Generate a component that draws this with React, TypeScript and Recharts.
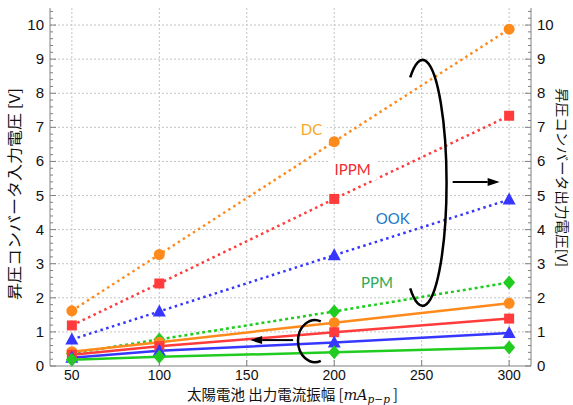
import React from 'react';
import { LineChart, Line, XAxis, YAxis, CartesianGrid, ReferenceDot, Label } from 'recharts';

// solar cell output current amplitude [mA p-p]
const currents = [50, 100, 200, 300];

// boost converter input voltage (left axis, dotted)
const dcIn = [1.62, 3.27, 6.58, 9.88];
const ippmIn = [1.19, 2.42, 4.9, 7.34];
const ookIn = [0.78, 1.6, 3.25, 4.88];
const ppmIn = [0.37, 0.78, 1.6, 2.45];

// boost converter output voltage (right axis, solid)
const dcOut = [0.42, 0.7, 1.27, 1.84];
const ippmOut = [0.33, 0.58, 0.99, 1.39];
const ookOut = [0.24, 0.45, 0.69, 0.97];
const ppmOut = [0.18, 0.27, 0.4, 0.54];

const xTicks = [50, 100, 150, 200, 250, 300];
const yGridValues = [1, 2, 3, 4, 5, 6, 7, 8, 9, 10];
const yTicks = Array.from({ length: 53 }, (_, i) => Math.round(i * 2) / 10);

const seriesLabels = [
  { text: 'DC', x: 187, y: 6.92, color: '#f5a623' },
  { text: 'IPPM', x: 210.5, y: 5.75, color: '#ee2a30' },
  { text: 'OOK', x: 233.5, y: 4.31, color: '#1b78c8' },
  { text: 'PPM', x: 224.5, y: 2.43, color: '#2aaa55' },
];

const C = {
  orange: '#ff8a1c',
  red: '#ff3b3b',
  blue: '#3636ff',
  green: '#1fcc1f',
  axis: '#808080',
};

const data = currents.map((x, i) => ({
  x,
  dcIn: dcIn[i],
  ippmIn: ippmIn[i],
  ookIn: ookIn[i],
  ppmIn: ppmIn[i],
  dcOut: dcOut[i],
  ippmOut: ippmOut[i],
  ookOut: ookOut[i],
  ppmOut: ppmOut[i],
}));

const TICK_FONT = '"Liberation Sans", Arial, sans-serif';
const JP_FONT = '"Noto Sans CJK JP", "Noto Sans", sans-serif';

const makeDot = (kind: string, color: string) => (p: any) => {
  const { cx, cy, index } = p;
  const key = `${kind}-${color}-${index}`;
  if (kind === 'circle') return <circle key={key} cx={cx} cy={cy} r={5.5} fill={color} />;
  if (kind === 'square') return <rect key={key} x={cx - 5} y={cy - 5} width={10} height={10} fill={color} />;
  if (kind === 'triangle')
    return <polygon key={key} points={`${cx},${cy - 7} ${cx - 6.5},${cy + 5} ${cx + 6.5},${cy + 5}`} fill={color} />;
  return <polygon key={key} points={`${cx},${cy - 7} ${cx + 6},${cy} ${cx},${cy + 7} ${cx - 6},${cy}`} fill={color} />;
};

const isMajor = (v: number) => Math.abs(v - Math.round(v)) < 1e-6;

const LeftTick = ({ x, y, payload }: any) => {
  const v = payload.value;
  const major = isMajor(v);
  return (
    <g>
      <line x1={x} x2={x + (major ? 6 : 3)} y1={y} y2={y} stroke={C.axis} />
      {major && (
        <text x={x - 6} y={y} dy={5} textAnchor="end" fontSize={15} fontFamily={TICK_FONT} fill="#111">
          {Math.round(v)}
        </text>
      )}
    </g>
  );
};

const RightTick = ({ x, y, payload }: any) => {
  const v = payload.value;
  const major = isMajor(v);
  return (
    <g>
      <line x1={x} x2={x - (major ? 6 : 3)} y1={y} y2={y} stroke={C.axis} />
      {major && (
        <text x={x + 6} y={y} dy={5} textAnchor="start" fontSize={15} fontFamily={TICK_FONT} fill="#111">
          {Math.round(v)}
        </text>
      )}
    </g>
  );
};

const BottomTick = ({ x, y, payload }: any) => (
  <g>
    <line x1={x} x2={x} y1={y} y2={y - 6} stroke={C.axis} />
    <text x={x} y={y + 14} textAnchor="middle" fontSize={14} fontFamily={TICK_FONT} fill="#111">
      {payload.value}
    </text>
  </g>
);

const XTitle = ({ viewBox }: any) => {
  const cx = viewBox.x + viewBox.width / 2 + 2;
  return (
    <text x={cx} y={viewBox.y + 34} textAnchor="middle" fontSize={14.5} fontFamily={JP_FONT} fill="#111">
      太陽電池 出力電流振幅 [
      <tspan fontFamily='"DejaVu Serif", serif' fontStyle="italic">mA</tspan>
      <tspan fontFamily='"DejaVu Serif", serif' fontStyle="italic" fontSize={10.5} dy={3}>p−p</tspan>
      <tspan dy={-3}> ]</tspan>
    </text>
  );
};

const LeftTitle = ({ viewBox }: any) => {
  const cx = 15;
  const cy = viewBox.y + viewBox.height / 2 + 7;
  return (
    <text x={cx} y={cy} dy={5} textAnchor="middle" fontSize={15} fontFamily={JP_FONT} fill="#111"
      textLength={212} lengthAdjust="spacingAndGlyphs" transform={`rotate(-90 ${cx} ${cy})`}>
      昇圧コンバータ入力電圧 [V]
    </text>
  );
};

const RightTitle = ({ viewBox }: any) => {
  const cx = 562;
  const cy = viewBox.y + viewBox.height / 2 - 9.5;
  return (
    <text x={cx} y={cy} dy={5} textAnchor="middle" fontSize={13.5} fontFamily={JP_FONT} fill="#111"
      textLength={179} lengthAdjust="spacingAndGlyphs" transform={`rotate(90 ${cx} ${cy})`}>
      昇圧コンバータ出力電圧[V]
    </text>
  );
};

const makeSeriesLabel = (text: string, color: string) => (p: any) => {
  const { cx, cy } = p;
  const w = text.length * 8.6 + 14;
  return (
    <g>
      <rect x={cx - w / 2} y={cy - 10.5} width={w} height={21} fill="#fff" />
      <text x={cx} y={cy} dy={5} textAnchor="middle" fontSize={15} fontFamily='Lato, "Open Sans", sans-serif' fill={color}>
        {text}
      </text>
    </g>
  );
};

// big ellipse arc around the input-voltage lines (pixel radii)
const BigArc = ({ cx, cy }: any) => {
  const rx = 24;
  const ry = 123;
  const a = (121 * Math.PI) / 180;
  const sx = cx + rx * Math.cos(a);
  const sy = cy - ry * Math.sin(a);
  const ey = cy + ry * Math.sin(a);
  return (
    <path d={`M ${sx} ${sy} A ${rx} ${ry} 0 1 1 ${sx} ${ey}`} fill="none" stroke="#000" strokeWidth={2.5} />
  );
};

const SmallArc = ({ cx, cy }: any) => {
  const rx = 17;
  const ry = 21;
  const a = (70 * Math.PI) / 180;
  const sx = cx + rx * Math.cos(a);
  const sy = cy - ry * Math.sin(a);
  const ey = cy + ry * Math.sin(a);
  return (
    <path d={`M ${sx} ${sy} A ${rx} ${ry} 0 1 0 ${sx} ${ey}`} fill="none" stroke="#000" strokeWidth={2.5} />
  );
};

const Arrow = (dir: number, len: number) => ({ cx, cy }: any) => {
  const tip = cx + dir * len;
  const base = tip - dir * 12;
  return (
    <g>
      <line x1={cx} y1={cy} x2={base} y2={cy} stroke="#000" strokeWidth={2} />
      <polygon points={`${tip},${cy} ${base},${cy - 4} ${base},${cy + 4}`} fill="#000" />
    </g>
  );
};

export default function App() {
  return (
    <div style={{ position: 'absolute', left: 0, top: 0, background: '#fff' }}>
      <LineChart width={573} height={405} data={data} margin={{ top: 8, right: 0, bottom: 0, left: 0 }}>
        <CartesianGrid
          yAxisId="left"
          stroke="#c4c4c4"
          strokeDasharray="2 2"
          horizontalValues={yGridValues}
          verticalValues={xTicks}
        />
        <XAxis
          dataKey="x"
          type="number"
          domain={[37.5, 312.5]}
          ticks={xTicks}
          interval={0}
          height={39}
          tickSize={0}
          tickMargin={0}
          tickLine={false}
          tick={<BottomTick />}
          axisLine={{ stroke: C.axis }}
        >
          <Label content={XTitle} />
        </XAxis>
        <XAxis
          xAxisId="top"
          orientation="top"
          dataKey="x"
          type="number"
          domain={[37.5, 312.5]}
          height={0}
          tick={false}
          tickLine={false}
          axisLine={{ stroke: C.axis }}
        />
        <YAxis
          yAxisId="left"
          type="number"
          domain={[0, 10.5]}
          ticks={yTicks}
          interval={0}
          width={50}
          tickSize={0}
          tickMargin={0}
          tickLine={false}
          tick={<LeftTick />}
          axisLine={{ stroke: C.axis }}
        >
          <Label content={LeftTitle} />
        </YAxis>
        <YAxis
          yAxisId="right"
          orientation="right"
          type="number"
          domain={[0, 10.5]}
          ticks={yTicks}
          interval={0}
          width={42}
          tickSize={0}
          tickMargin={0}
          tickLine={false}
          tick={<RightTick />}
          axisLine={{ stroke: C.axis }}
        >
          <Label content={RightTitle} />
        </YAxis>

        <Line yAxisId="left" dataKey="dcIn" stroke={C.orange} strokeWidth={2.5} strokeDasharray="2.5 3.5" dot={makeDot('circle', C.orange)} isAnimationActive={false} />
        <Line yAxisId="left" dataKey="ippmIn" stroke={C.red} strokeWidth={2.5} strokeDasharray="2.5 3.5" dot={makeDot('square', C.red)} isAnimationActive={false} />
        <Line yAxisId="left" dataKey="ookIn" stroke={C.blue} strokeWidth={2.5} strokeDasharray="2.5 3.5" dot={makeDot('triangle', C.blue)} isAnimationActive={false} />
        <Line yAxisId="left" dataKey="ppmIn" stroke={C.green} strokeWidth={2.5} strokeDasharray="3 3" dot={makeDot('diamond', C.green)} isAnimationActive={false} />

        <Line yAxisId="right" dataKey="dcOut" stroke={C.orange} strokeWidth={2.5} dot={makeDot('circle', C.orange)} isAnimationActive={false} />
        <Line yAxisId="right" dataKey="ippmOut" stroke={C.red} strokeWidth={2.5} dot={makeDot('square', C.red)} isAnimationActive={false} />
        <Line yAxisId="right" dataKey="ookOut" stroke={C.blue} strokeWidth={2.5} dot={makeDot('triangle', C.blue)} isAnimationActive={false} />
        <Line yAxisId="right" dataKey="ppmOut" stroke={C.green} strokeWidth={2.5} dot={makeDot('diamond', C.green)} isAnimationActive={false} />

        {seriesLabels.map((l) => (
          <ReferenceDot key={l.text} yAxisId="left" x={l.x} y={l.y} r={1} shape={makeSeriesLabel(l.text, l.color)} />
        ))}

        <ReferenceDot yAxisId="left" x={250.5} y={5.37} r={1} shape={BigArc} />
        <ReferenceDot yAxisId="left" x={267.7} y={5.4} r={1} shape={Arrow(1, 47)} />
        <ReferenceDot yAxisId="left" x={189} y={0.73} r={1} shape={SmallArc} />
        <ReferenceDot yAxisId="left" x={176.5} y={0.76} r={1} shape={Arrow(-1, 43)} />
      </LineChart>
    </div>
  );
}
